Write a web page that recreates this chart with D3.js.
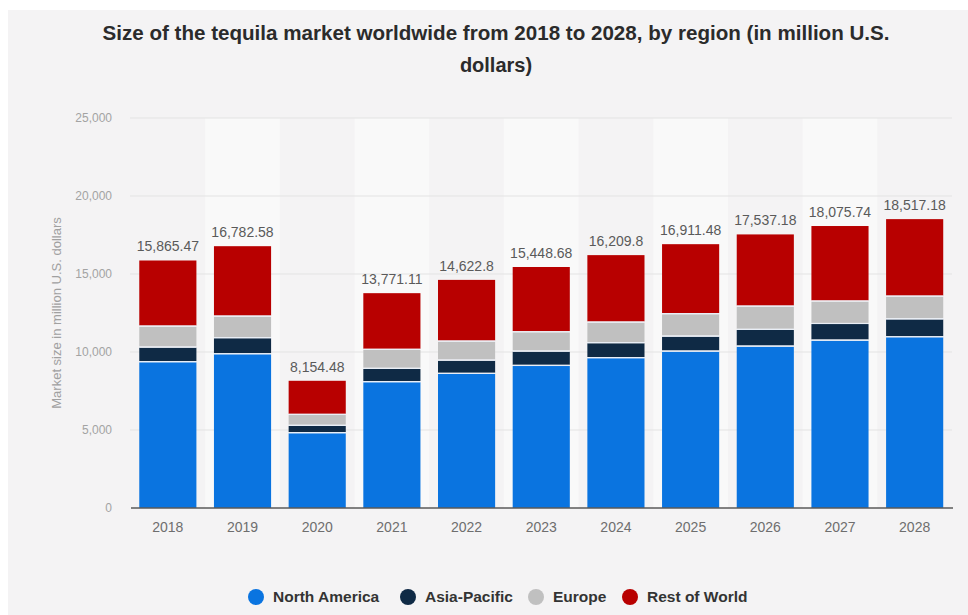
<!DOCTYPE html>
<html>
<head>
<meta charset="utf-8">
<script src="https://cdn.jsdelivr.net/npm/d3@7"></script>
<style>
  html, body { margin: 0; padding: 0; background: #ffffff; }
  svg { display: block; font-family: "Liberation Sans", Arial, Helvetica, sans-serif; }
</style>
</head>
<body>
<svg id="chart" width="968" height="615"></svg>
<script>
// Tequila market size by region, million U.S. dollars
const years = ["2018", "2019", "2020", "2021", "2022", "2023", "2024", "2025", "2026", "2027", "2028"];
const northAmerica = [9340, 9850, 4790, 8060, 8590, 9100, 9600, 10020, 10340, 10720, 10940];
const asiaPacific  = [940, 1030, 470, 850, 850, 920, 960, 960, 1070, 1070, 1150];
const europe       = [1340, 1380, 700, 1220, 1220, 1240, 1320, 1440, 1490, 1440, 1450];
const restOfWorld  = [4245.47, 4522.58, 2194.48, 3641.11, 3962.8, 4188.68, 4329.8, 4491.48, 4637.18, 4845.74, 4977.18];
const totals       = [15865.47, 16782.58, 8154.48, 13771.11, 14622.8, 15448.68, 16209.8, 16911.48, 17537.18, 18075.74, 18517.18];
const totalLabels  = ["15,865.47", "16,782.58", "8,154.48", "13,771.11", "14,622.8", "15,448.68", "16,209.8", "16,911.48", "17,537.18", "18,075.74", "18,517.18"];
const yTicks = [0, 5000, 10000, 15000, 20000, 25000];

const seriesNames = ["North America", "Asia-Pacific", "Europe", "Rest of World"];
const seriesColors = ["#0a74e0", "#0f2a45", "#c0c0c0", "#b80000"];

const rows = years.map((y, i) => ({
  year: y,
  "North America": northAmerica[i],
  "Asia-Pacific": asiaPacific[i],
  "Europe": europe[i],
  "Rest of World": restOfWorld[i]
}));

const svg = d3.select("#chart");
const W = 968, H = 615;

// panel background
svg.append("rect").attr("x", 8).attr("y", 10).attr("width", W - 8).attr("height", H - 10).attr("fill", "#f4f3f4");

const x = d3.scaleBand().domain(years).range([130.5, 952]).paddingInner(0.235).paddingOuter(0.1175);
const y = d3.scaleLinear().domain([0, 25000]).range([508, 118]);
const color = d3.scaleOrdinal().domain(seriesNames).range(seriesColors);

// alternating column bands
svg.append("g").selectAll("rect")
  .data(years.filter((d, i) => i % 2 === 1))
  .join("rect")
  .attr("x", d => x(d) - x.step() * x.paddingInner() / 2)
  .attr("width", x.step())
  .attr("y", y(25000))
  .attr("height", y(0) - y(25000))
  .attr("fill", "#f9f9f9");

// horizontal gridlines
svg.append("g").selectAll("line")
  .data(yTicks.slice(1))
  .join("line")
  .attr("x1", 130).attr("x2", 952)
  .attr("y1", d => y(d)).attr("y2", d => y(d))
  .attr("stroke", "#e3e3e3").attr("stroke-width", 1);

// y axis labels
const yAxis = d3.axisLeft(y).tickValues(yTicks).tickFormat(d3.format(",")).tickSize(0).tickPadding(0);
const yg = svg.append("g").attr("transform", "translate(112,0)").call(yAxis);
yg.select(".domain").remove();
yg.selectAll("text").attr("fill", "#a3a3a3").style("font-size", "12px").style("font-family", "'Liberation Sans', Arial, sans-serif");

// y axis title
svg.append("text")
  .attr("transform", "translate(61,313) rotate(-90)")
  .attr("text-anchor", "middle")
  .attr("fill", "#a0a0a0")
  .style("font-size", "13px")
  .text("Market size in million U.S. dollars");

// stacked bars
const stack = d3.stack().keys(seriesNames);
const layers = stack(rows);
svg.append("g").selectAll("g")
  .data(layers)
  .join("g")
  .attr("fill", d => color(d.key))
  .selectAll("rect")
  .data((d, li) => d.map(v => ({ v, li })))
  .join("rect")
  .attr("x", d => x(d.v.data.year))
  .attr("width", x.bandwidth())
  .attr("y", d => y(d.v[1]))
  .attr("height", d => Math.max(0, y(d.v[0]) - y(d.v[1]) - (d.li > 0 ? 1.2 : 0)));

// thin light edges between stacked segments
svg.append("g").selectAll("line")
  .data(layers.slice(1).flatMap(l => l.map(v => v)))
  .join("line")
  .attr("x1", d => x(d.data.year)).attr("x2", d => x(d.data.year) + x.bandwidth())
  .attr("y1", d => y(d[0]) - 0.6).attr("y2", d => y(d[0]) - 0.6)
  .attr("stroke", "#e9eef6").attr("stroke-width", 1.2);

// baseline
svg.append("line")
  .attr("x1", 131).attr("x2", 953)
  .attr("y1", y(0)).attr("y2", y(0))
  .attr("stroke", "#5a5a5a").attr("stroke-width", 1.5);

// x axis labels
const xAxis = d3.axisBottom(x).tickSize(0).tickPadding(0);
const xg = svg.append("g").attr("transform", `translate(0,${y(0) + 14})`).call(xAxis);
xg.select(".domain").remove();
xg.selectAll("text").attr("fill", "#6e6e6e").style("font-size", "14px").style("font-family", "'Liberation Sans', Arial, sans-serif");

// total labels
svg.append("g").selectAll("text")
  .data(years)
  .join("text")
  .attr("x", d => x(d) + x.bandwidth() / 2)
  .attr("y", (d, i) => y(totals[i]) - 9)
  .attr("text-anchor", "middle")
  .attr("fill", "#5a5a5a")
  .style("font-size", "14px")
  .text((d, i) => totalLabels[i]);

// title
const title = svg.append("text")
  .attr("x", 496).attr("text-anchor", "middle")
  .attr("fill", "#2b2b2b")
  .style("font-size", "20px").style("font-weight", "bold");
title.append("tspan").attr("x", 496).attr("y", 40)
  .attr("textLength", 787).attr("lengthAdjust", "spacingAndGlyphs")
  .text("Size of the tequila market worldwide from 2018 to 2028, by region (in million U.S.");
title.append("tspan").attr("x", 496).attr("y", 72).text("dollars)");

// legend
const legendX = [256, 408, 536, 630];
const lg = svg.append("g").selectAll("g")
  .data(seriesNames)
  .join("g")
  .attr("transform", (d, i) => `translate(${legendX[i]},597)`);
lg.append("circle").attr("r", 8).attr("fill", d => color(d));
lg.append("text")
  .attr("x", 17).attr("dy", "0.35em")
  .attr("fill", "#333")
  .style("font-size", "15.5px").style("font-weight", "bold")
  .text(d => d);
</script>
</body>
</html>
